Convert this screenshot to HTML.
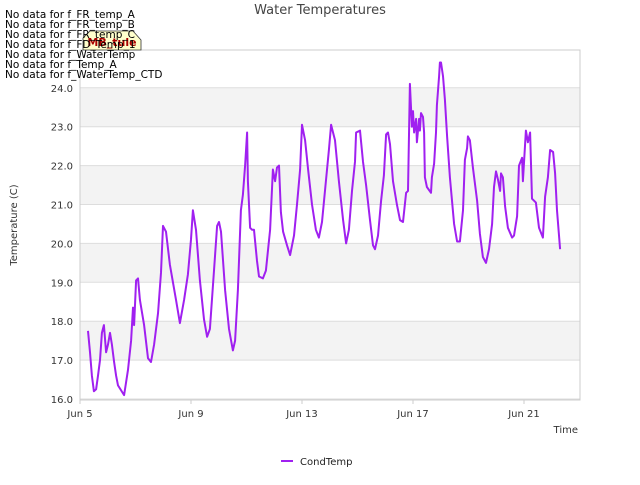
<!DOCTYPE html>
<html><head><meta charset="utf-8"><style>
body{margin:0;background:#fff;font-family:"Liberation Sans","DejaVu Sans",sans-serif}
svg text{font-family:"DejaVu Sans","Liberation Sans",sans-serif}
</style></head><body>
<svg id="c" width="640" height="480" xmlns="http://www.w3.org/2000/svg">
<rect x="0" y="0" width="640" height="480" fill="#fff"/>
<g id="bands"></g><g id="grid"></g>
<rect x="80" y="50" width="500" height="350" fill="none" stroke="#ccc"/>
<g id="yt"></g><g id="xt"></g>
<path id="line" fill="none" stroke="#a020f0" stroke-width="2" stroke-linejoin="round"/>
<text x="320" y="14" text-anchor="middle" font-size="13" fill="#444">Water Temperatures</text>
<text transform="translate(17,225) rotate(-90)" text-anchor="middle" font-size="10" fill="#333">Temperature (C)</text>
<text x="578" y="433" text-anchor="end" font-size="10" fill="#333">Time</text>
<g>
<line x1="281" y1="461" x2="293" y2="461" stroke="#a020f0" stroke-width="2"/>
<text x="300" y="465" font-size="10" fill="#222">CondTemp</text></g>
<g>
<path d="M83,38 L90,31 L133,31 L141,40 L141,50 L83,50 Z" fill="#ffffcc" stroke="#333" stroke-width="0.8"/>
<text x="112" y="46" text-anchor="middle" font-size="11" font-weight="bold" fill="#a00">MB_tule</text></g>
<g font-size="10.5" fill="#000">
<text x="5" y="18">No data for f_FR_temp_A</text>
<text x="5" y="28">No data for f_FR_temp_B</text>
<text x="5" y="38">No data for f_FR_temp_C</text>
<text x="5" y="48">No data for f_FD_Temp_1</text>
<text x="5" y="58">No data for f_WaterTemp</text>
<text x="5" y="68">No data for f_Temp_A</text>
<text x="5" y="78">No data for f_WaterTemp_CTD</text>
</g>
</svg>
<script>
const yTicks=[16,17,18,19,20,21,22,23,24];
const xTickLabels=["Jun 5","Jun 9","Jun 13","Jun 17","Jun 21"];
const xTickDays=[0,4,8,12,16];
const days=[0.29,0.36,0.43,0.50,0.58,0.65,0.72,0.79,0.86,0.94,1.01,1.08,1.15,1.23,1.30,1.37,1.59,1.73,1.84,1.91,1.95,2.02,2.09,2.16,2.31,2.45,2.56,2.67,2.81,2.92,2.99,3.10,3.24,3.46,3.60,3.75,3.89,4.00,4.07,4.18,4.32,4.47,4.58,4.68,4.83,4.94,5.01,5.08,5.23,5.37,5.51,5.59,5.69,5.80,5.87,5.95,6.02,6.05,6.13,6.20,6.27,6.38,6.45,6.59,6.70,6.85,6.95,7.03,7.10,7.17,7.24,7.32,7.46,7.57,7.71,7.82,7.93,8.00,8.11,8.22,8.36,8.50,8.61,8.72,8.86,8.97,9.05,9.19,9.33,9.48,9.59,9.69,9.80,9.91,9.95,10.09,10.20,10.31,10.45,10.56,10.63,10.74,10.85,10.95,11.03,11.10,11.17,11.28,11.42,11.53,11.64,11.75,11.82,11.89,11.96,12.00,12.04,12.11,12.14,12.22,12.25,12.29,12.36,12.40,12.43,12.50,12.65,12.68,12.76,12.83,12.86,12.94,12.97,13.01,13.08,13.15,13.23,13.33,13.48,13.59,13.69,13.80,13.87,13.95,13.98,14.05,14.16,14.31,14.41,14.52,14.63,14.74,14.85,14.92,14.99,15.06,15.14,15.17,15.24,15.32,15.42,15.57,15.64,15.75,15.82,15.93,15.96,16.07,16.14,16.22,16.29,16.43,16.54,16.68,16.76,16.86,16.94,17.05,17.12,17.19,17.30];
const temps=[17.75,17.2,16.6,16.2,16.25,16.6,17.0,17.7,17.9,17.2,17.4,17.7,17.4,16.95,16.6,16.35,16.1,16.75,17.5,18.35,17.9,19.05,19.1,18.55,17.9,17.05,16.95,17.4,18.2,19.25,20.45,20.3,19.45,18.55,17.95,18.55,19.2,20.1,20.85,20.35,19.05,18.05,17.6,17.8,19.3,20.45,20.55,20.3,18.8,17.8,17.25,17.5,18.8,20.85,21.25,22.0,22.85,21.6,20.4,20.35,20.35,19.55,19.15,19.1,19.3,20.35,21.9,21.6,21.95,22.0,20.8,20.3,19.95,19.7,20.2,21.0,21.9,23.05,22.65,21.9,21.0,20.35,20.15,20.55,21.6,22.4,23.05,22.65,21.6,20.6,20.0,20.35,21.35,22.1,22.85,22.9,22.1,21.5,20.6,19.95,19.85,20.2,21.1,21.75,22.8,22.85,22.55,21.6,21.0,20.6,20.55,21.3,21.35,24.1,23.0,23.4,22.85,23.2,22.6,23.2,22.9,23.35,23.25,22.85,21.7,21.45,21.3,21.7,22.05,22.85,23.55,24.3,24.65,24.65,24.3,23.7,22.75,21.7,20.5,20.05,20.05,20.85,22.15,22.45,22.75,22.65,21.95,21.1,20.25,19.65,19.5,19.85,20.5,21.45,21.85,21.65,21.35,21.8,21.7,20.95,20.4,20.15,20.2,20.7,22.0,22.2,21.6,22.9,22.6,22.85,21.15,21.05,20.4,20.15,21.2,21.7,22.4,22.35,21.8,20.85,19.85];
const NS="http://www.w3.org/2000/svg";
const xS=d=>80+d*27.75, yS=v=>399-(v-16)*38.9;
const bands=document.getElementById('bands'),grid=document.getElementById('grid'),yt=document.getElementById('yt'),xt=document.getElementById('xt');
for(let v=17;v<25;v+=2){const r=document.createElementNS(NS,'rect');
r.setAttribute('x',80);r.setAttribute('y',yS(v+1));r.setAttribute('width',500);r.setAttribute('height',yS(v)-yS(v+1));r.setAttribute('fill','#f3f3f3');


bands.appendChild(r);}
yTicks.forEach(v=>{const l=document.createElementNS(NS,'line');
l.setAttribute('x1',80);l.setAttribute('x2',580);l.setAttribute('y1',yS(v));l.setAttribute('y2',yS(v));l.setAttribute('stroke','#ddd');


grid.appendChild(l);
const t=document.createElementNS(NS,'text');t.setAttribute('x',73);t.setAttribute('y',yS(v)+4);t.setAttribute('text-anchor','end');t.setAttribute('font-size','10');t.setAttribute('fill','#333');t.textContent=v.toFixed(1);


yt.appendChild(t);});
xTickDays.forEach((d,i)=>{const t=document.createElementNS(NS,'text');t.setAttribute('x',xS(d));t.setAttribute('y',417);t.setAttribute('text-anchor','middle');t.setAttribute('font-size','10');t.setAttribute('fill','#333');t.textContent=xTickLabels[i];


xt.appendChild(t);
const l=document.createElementNS(NS,'line');l.setAttribute('x1',xS(d));l.setAttribute('x2',xS(d));l.setAttribute('y1',400);l.setAttribute('y2',404);l.setAttribute('stroke','#ccc');


xt.appendChild(l);});
const n=Math.min(days.length,temps.length);
let d='';for(let i=0;i<n;i++){d+=(i?'L':'M')+xS(days[i]).toFixed(1)+','+yS(temps[i]).toFixed(1);}
document.getElementById('line').setAttribute('d',d);
</script>
</body></html>
